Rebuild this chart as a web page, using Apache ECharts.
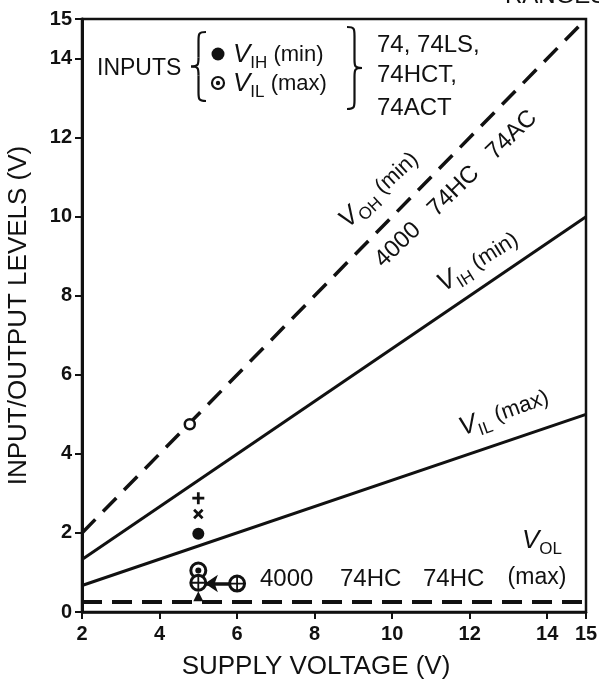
<!DOCTYPE html>
<html>
<head>
<meta charset="utf-8">
<script src="https://cdn.jsdelivr.net/npm/echarts@6/dist/echarts.min.js"></script>
<style>
    html, body { margin: 0; padding: 0; background: #fff; }
    #chart { width: 599px; height: 683px; }
</style>
</head>
<body>
<div id="chart"></div>
<script>
    // supply voltage end points and the level lines
    const supplyV = [2, 15];
    const vohMin = [2, 15];
    const vihMin = [1.33, 10];
    const vilMax = [0.67, 5];
    const volMax = [0.25, 0.25];

    // marks at 5 V (and 6 V)
    const vohPoint = [[4.78, 4.75]];
    const plusPts = [[5, 2.88]];
    const crossPts = [[5, 2.48]];
    const vihDots = [[5, 1.98]];
    const vilRings = [[5, 1.05]];
    const crossedRings = [[5, 0.74], [6, 0.72]];
    const arrowPts = [[5.8, 0.72], [5.17, 0.72]];
    const triPts = [[5, 0.4]];

    const FONT = '"Liberation Sans", Arial, sans-serif';

    function pairs(ys) {
        return supplyV.map((x, i) => [x, ys[i]]);
    }

    const plusPath = 'path://M5,0H8V5H13V8H8V13H5V8H0V5H5Z';
    const thinPlus = 'path://M5.6,0H7.4V5.6H13V7.4H7.4V13H5.6V7.4H0V5.6H5.6Z';

    const rich = {
        v: { fontSize: 26, fontStyle: 'italic', fontFamily: FONT, lineHeight: 34, verticalAlign: 'middle', color: '#111' },
        s: { fontSize: 17, fontFamily: FONT, lineHeight: 34, verticalAlign: 'bottom', color: '#111' },
        n: { fontSize: 22, fontFamily: FONT, lineHeight: 34, verticalAlign: 'middle', color: '#111' }
    };

    function label(x, y, text, deg, size, align) {
        return {
            type: 'text', x: x, y: y, rotation: deg * Math.PI / 180, z: 50,
            style: {
                text: text, rich: rich, fill: '#111',
                font: (size || 22) + 'px ' + FONT,
                textAlign: align || 'center', textVerticalAlign: 'middle',
                align: align || 'center', verticalAlign: 'middle'
            }
        };
    }

    function plain(x, y, text, size, align) {
        return {
            type: 'text', x: x, y: y, z: 50,
            style: {
                text: text, fill: '#111', font: (size || 24) + 'px ' + FONT,
                textAlign: align || 'left', textVerticalAlign: 'middle',
                align: align || 'left', verticalAlign: 'middle'
            }
        };
    }

    // curly brace made of bezier curves and lines; dir 1 = "{", -1 = "}"
    function brace(x, y, w, h, dir) {
        const tip = dir === 1 ? x : x + w;
        const end = dir === 1 ? x + w : x;
        const stem = x + w / 2;
        const mid = y + h / 2;
        const r = 9;
        const st = { stroke: '#111', lineWidth: 2.2, fill: null };
        const bz = (x1, y1, c1x, c1y, c2x, c2y, x2, y2) => ({
            type: 'bezierCurve', z: 50, style: st,
            shape: { x1: x1, y1: y1, cpx1: c1x, cpy1: c1y, cpx2: c2x, cpy2: c2y, x2: x2, y2: y2 }
        });
        const ln = (x1, y1, x2, y2) => ({
            type: 'line', z: 50, style: st, shape: { x1: x1, y1: y1, x2: x2, y2: y2 }
        });
        return [
            bz(end, y, stem, y, stem, y + 2, stem, y + r),
            ln(stem, y + r, stem, mid - r),
            bz(stem, mid - r, stem, mid - 2, stem, mid, tip, mid),
            bz(tip, mid, stem, mid, stem, mid + 2, stem, mid + r),
            ln(stem, mid + r, stem, y + h - r),
            bz(stem, y + h - r, stem, y + h - 2, stem, y + h, end, y + h)
        ];
    }

    const chart = echarts.init(document.getElementById('chart'));
    chart.setOption({
        animation: false,
        backgroundColor: '#fff',
        grid: {
            left: 82, right: 13, top: 19, bottom: 71,
            outerBoundsMode: 'none', containLabel: false,
            show: true, borderColor: '#111', borderWidth: 2.5
        },
        xAxis: {
            type: 'value', min: 2, max: 15, interval: 2,
            name: 'SUPPLY VOLTAGE (V)', nameLocation: 'middle', nameGap: 42,
            nameTextStyle: { fontSize: 26, color: '#111', fontFamily: FONT, padding: [0, 36, 0, 0] },
            axisLine: { lineStyle: { color: '#111', width: 2.5 } },
            axisTick: { length: 7, lineStyle: { color: '#111', width: 2 } },
            axisLabel: { fontSize: 20, fontWeight: 'bold', color: '#111', fontFamily: FONT, margin: 12 },
            splitLine: { show: false }
        },
        yAxis: {
            type: 'value', min: 0, max: 15, interval: 2,
            name: 'INPUT/OUTPUT LEVELS (V)', nameLocation: 'middle', nameGap: 50,
            nameTextStyle: { fontSize: 26, color: '#111', fontFamily: FONT },
            axisLine: { lineStyle: { color: '#111', width: 3 } },
            axisTick: { length: 7, lineStyle: { color: '#111', width: 2 } },
            axisLabel: { fontSize: 20, fontWeight: 'bold', color: '#111', fontFamily: FONT, margin: 10 },
            splitLine: { show: false }
        },
        series: [
            {
                name: 'VOH(min)', type: 'line', data: pairs(vohMin), symbol: 'none',
                lineStyle: { color: '#111', width: 3.5, type: [19, 11] }
            },
            {
                name: 'VIH(min)', type: 'line', data: pairs(vihMin), symbol: 'none',
                lineStyle: { color: '#111', width: 3 }
            },
            {
                name: 'VIL(max)', type: 'line', data: pairs(vilMax), symbol: 'none',
                lineStyle: { color: '#111', width: 3 }
            },
            {
                name: 'VOL(max)', type: 'line', data: pairs(volMax), symbol: 'none',
                lineStyle: { color: '#111', width: 4, type: [20, 10] }
            },
            {
                type: 'lines', coordinateSystem: 'cartesian2d', z: 5,
                symbol: ['none', 'arrow'], symbolSize: 13,
                lineStyle: { color: '#111', width: 3.5, opacity: 1 },
                data: [{ coords: arrowPts }]
            },
            {
                type: 'scatter', data: vohPoint, symbol: 'circle', symbolSize: 10, z: 6,
                itemStyle: { color: '#fff', borderColor: '#111', borderWidth: 2.5, opacity: 1 }
            },
            {
                type: 'scatter', data: plusPts, symbol: plusPath, symbolSize: 12, z: 6,
                itemStyle: { color: '#111', opacity: 1 }
            },
            {
                type: 'scatter', data: crossPts, symbol: plusPath, symbolSize: 12, symbolRotate: 45, z: 6,
                itemStyle: { color: '#111', opacity: 1 }
            },
            {
                type: 'scatter', data: vihDots, symbol: 'circle', symbolSize: 12, z: 6,
                itemStyle: { color: '#111', opacity: 1 }
            },
            {
                type: 'scatter', data: vilRings.concat(crossedRings), symbol: 'circle', symbolSize: 15, z: 6,
                itemStyle: { color: '#fff', borderColor: '#111', borderWidth: 3, opacity: 1 }
            },
            {
                type: 'scatter', data: vilRings, symbol: 'circle', symbolSize: 6, z: 7,
                itemStyle: { color: '#111', opacity: 1 }
            },
            {
                type: 'scatter', data: crossedRings, symbol: thinPlus, symbolSize: 13, z: 7,
                itemStyle: { color: '#111', opacity: 1 }
            },
            {
                type: 'scatter', data: triPts, symbol: 'triangle', symbolSize: 10, z: 6,
                itemStyle: { color: '#111', opacity: 1 }
            }
        ],
        graphic: [
            // header fragment cut off at the top edge
            plain(505, -4, 'RANGES', 24, 'left'),

            // inputs key
            plain(97, 69, 'INPUTS', 23),
            ...brace(191, 32, 15, 69, 1),
            { type: 'circle', z: 50, shape: { cx: 218, cy: 54, r: 6.5 }, style: { fill: '#111' } },
            { type: 'circle', z: 50, shape: { cx: 218, cy: 83, r: 6 }, style: { fill: '#fff', stroke: '#111', lineWidth: 2.2 } },
            { type: 'circle', z: 51, shape: { cx: 218, cy: 83, r: 2.2 }, style: { fill: '#111' } },
            label(233, 55, '{v|V}{s|IH} {n|(min)}', 0, 22, 'left'),
            label(233, 84, '{v|V}{s|IL} {n|(max)}', 0, 22, 'left'),
            ...brace(347, 27, 15, 82, -1),
            plain(377, 45, '74, 74LS,', 24),
            plain(377, 75, '74HCT,', 24),
            plain(377, 108, '74ACT', 24),

            // line labels
            label(379, 190, '{v|V}{s|OH} {n|(min)}', 43),
            label(456, 189, '4000   74HC   74AC', 44, 24),
            label(478, 262, '{v|V}{s|IH} {n|(min)}', 32),
            label(504, 413, '{v|V}{s|IL} {n|(max)}', 20),

            // output low label
            label(542, 541, '{v|V}{s|OL}', 0),
            plain(537, 578, '(max)', 23, 'center'),
            plain(260, 579, '4000', 24),
            plain(340, 579, '74HC', 24),
            plain(423, 579, '74HC', 24)
        ]
    });
</script>
</body>
</html>
